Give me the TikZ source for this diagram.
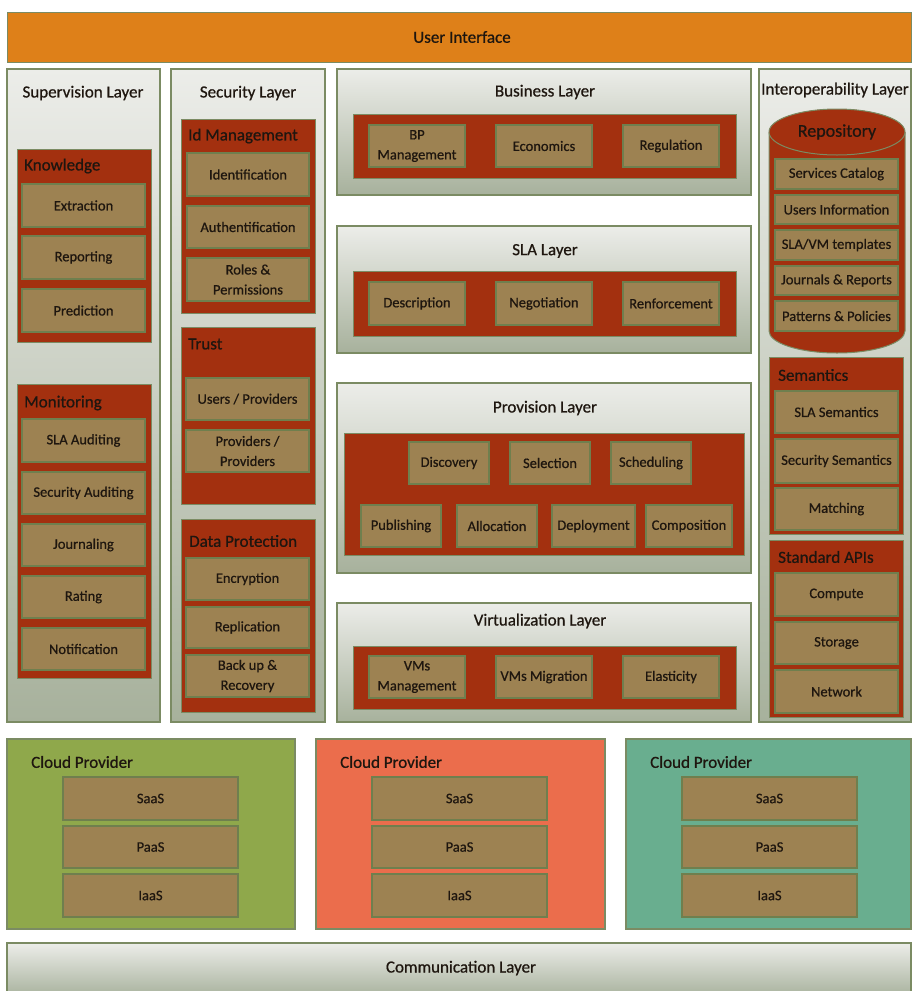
\documentclass[tikz,border=0pt]{standalone}
\usepackage{fontspec}
\setmainfont{Carlito}[FakeBold=0.7]
\usetikzlibrary{calc}

\definecolor{uiorange}{HTML}{DE8019}
\definecolor{paneltop}{HTML}{ECEDE9}
\definecolor{panelbot}{HTML}{A7B19C}
\definecolor{edgegreen}{HTML}{7B8B63}
\definecolor{groupred}{HTML}{A3300F}
\definecolor{itemtan}{HTML}{9D8252}
\definecolor{itemedge}{HTML}{6F7F4E}
\definecolor{cloudgreen}{HTML}{8FA84B}
\definecolor{cloudred}{HTML}{EB6D4C}
\definecolor{cloudteal}{HTML}{69AE8F}
\definecolor{ink}{HTML}{1E160F}

\tikzset{
  layerpanel/.style={draw=edgegreen, line width=1.2pt, top color=paneltop, bottom color=panelbot,
    inner sep=0pt, outer sep=0pt},
  groupbox/.style={draw=edgegreen, line width=1pt, fill=groupred, inner sep=0pt, outer sep=0pt},
  itembox/.style={draw=itemedge, line width=1.2pt, fill=itemtan, inner sep=0pt, outer sep=0pt,
    align=center, text=ink, font=\fontsize{14.5}{20}\selectfont},
  cloudbox/.style={draw=edgegreen, line width=1.2pt, inner sep=0pt, outer sep=0pt},
  layertitle/.style={text=ink, font=\fontsize{17}{19}\selectfont, inner sep=0pt},
  grouptitle/.style={text=ink, font=\fontsize{17}{19}\selectfont, inner sep=0pt, anchor=west},
}

% box from corner (x1,y1) to (x2,y2): name, x1, y1, x2, y2, style, text
\newcommand\cornerbox[7]{%
  \node[#6, minimum width={#4-#2}, minimum height={#5-#3}] (#1)
    at ({(#2+#4)/2},{(#3+#5)/2}) {#7};}

\begin{document}
\begin{tikzpicture}[x=1pt,y=-1pt]
\useasboundingbox (0,0) rectangle (911,991);

% ---------- top bar ----------
\cornerbox{ui}{7}{12}{911}{62}{draw=edgegreen, line width=1pt, fill=uiorange, inner sep=0pt}{}
\node[layertitle] (uit) at (462,37) {User Interface};

% ---------- supervision layer ----------
\cornerbox{sup}{7}{69}{160}{722}{layerpanel}{}
\node[layertitle] (supt) at (83,93) {Supervision Layer};
\cornerbox{know}{17}{149}{151}{342}{groupbox}{}
\node[grouptitle] (knowt) at (24,166) {Knowledge};
\cornerbox{ext}{22}{184}{145}{227}{itembox}{Extraction}
\cornerbox{rep}{22}{236}{145}{279}{itembox}{Reporting}
\cornerbox{pred}{22}{289}{145}{332}{itembox}{Prediction}
\cornerbox{mon}{17}{384}{151}{678}{groupbox}{}
\node[grouptitle] (mont) at (24,403) {Monitoring};
\cornerbox{slaa}{22}{419}{145}{462}{itembox}{SLA Auditing}
\cornerbox{seca}{22}{472}{145}{514}{itembox}{Security Auditing}
\cornerbox{jour}{22}{524}{145}{566}{itembox}{Journaling}
\cornerbox{rat}{22}{576}{145}{618}{itembox}{Rating}
\cornerbox{noti}{22}{628}{145}{670}{itembox}{Notification}

% ---------- security layer ----------
\cornerbox{sec}{171}{69}{325}{722}{layerpanel}{}
\node[layertitle] (sect) at (248,93) {Security Layer};
\cornerbox{idm}{181}{119}{315}{313}{groupbox}{}
\node[grouptitle] (idmt) at (188,136) {Id Management};
\cornerbox{ident}{187}{153}{309}{196}{itembox}{Identification}
\cornerbox{auth}{187}{206}{309}{248}{itembox}{Authentification}
\cornerbox{roles}{187}{258}{309}{301}{itembox}{Roles \&\\Permissions}
\cornerbox{trust}{181}{327}{315}{504}{groupbox}{}
\node[grouptitle] (trustt) at (188,344) {Trust};
\cornerbox{usp}{186}{378}{309}{420}{itembox}{Users / Providers}
\cornerbox{pp}{186}{430}{309}{472}{itembox}{Providers /\\Providers}
\cornerbox{dp}{181}{519}{315}{712}{groupbox}{}
\node[grouptitle] (dpt) at (189,541) {Data Protection};
\cornerbox{enc}{186}{558}{309}{600}{itembox}{Encryption}
\cornerbox{repl}{186}{607}{309}{648}{itembox}{Replication}
\cornerbox{back}{186}{655}{309}{697}{itembox}{Back up \&\\Recovery}

% ---------- business layer ----------
\cornerbox{bus}{337}{69}{751}{195}{layerpanel}{}
\node[layertitle] (bust) at (545,92) {Business Layer};
\cornerbox{busg}{353}{114}{736}{178}{groupbox}{}
\cornerbox{bpm}{369}{125}{465}{167}{itembox}{BP\\Management}
\cornerbox{eco}{496}{125}{592}{167}{itembox}{Economics}
\cornerbox{reg}{623}{125}{719}{167}{itembox}{Regulation}

% ---------- SLA layer ----------
\cornerbox{sla}{337}{226}{751}{353}{layerpanel}{}
\node[layertitle] (slat) at (545,251) {SLA Layer};
\cornerbox{slag}{353}{271}{736}{336}{groupbox}{}
\cornerbox{desc}{369}{282}{465}{325}{itembox}{Description}
\cornerbox{nego}{496}{282}{592}{325}{itembox}{Negotiation}
\cornerbox{renf}{623}{282}{719}{325}{itembox}{Renforcement}

% ---------- provision layer ----------
\cornerbox{prov}{337}{383}{751}{573}{layerpanel}{}
\node[layertitle] (provt) at (545,408) {Provision Layer};
\cornerbox{provg}{344}{433}{744}{555}{groupbox}{}
\cornerbox{disc}{409}{442}{489}{484}{itembox}{Discovery}
\cornerbox{sel}{510}{442}{590}{484}{itembox}{Selection}
\cornerbox{sched}{611}{442}{691}{484}{itembox}{Scheduling}
\cornerbox{pub}{361}{505}{441}{547}{itembox}{Publishing}
\cornerbox{alloc}{457}{505}{537}{547}{itembox}{Allocation}
\cornerbox{depl}{552}{505}{635}{547}{itembox}{Deployment}
\cornerbox{comp}{646}{505}{732}{547}{itembox}{Composition}

% ---------- virtualization layer ----------
\cornerbox{virt}{337}{603}{751}{722}{layerpanel}{}
\node[layertitle] (virtt) at (540,621) {Virtualization Layer};
\cornerbox{virtg}{353}{646}{736}{709}{groupbox}{}
\cornerbox{vmm}{369}{656}{465}{698}{itembox}{VMs\\Management}
\cornerbox{vmmig}{496}{656}{592}{698}{itembox}{VMs Migration}
\cornerbox{elas}{623}{656}{719}{698}{itembox}{Elasticity}

% ---------- interoperability layer ----------
\cornerbox{inter}{759}{69}{911}{722}{layerpanel}{}
\node[layertitle] (intert) at (835,90) {Interoperability Layer};
% repository drum
\fill[groupred] (769,132) -- (769,331)
  arc[start angle=180, end angle=360, x radius=68pt, y radius=22pt]
  -- (905,132)
  arc[start angle=0, end angle=180, x radius=68pt, y radius=23pt] -- cycle;
\draw[edgegreen, line width=1pt] (769,132) -- (769,331)
  arc[start angle=180, end angle=360, x radius=68pt, y radius=22pt]
  -- (905,132);
\draw[edgegreen, line width=1pt, fill=groupred] (837,132) ellipse[x radius=68pt, y radius=23pt];
\node[layertitle, font=\fontsize{18}{20}\selectfont] (repot) at (837,132) {Repository};
\cornerbox{scat}{775}{159}{898}{189}{itembox}{Services Catalog}
\cornerbox{uinf}{775}{195}{898}{224}{itembox}{Users Information}
\cornerbox{tmpl}{775}{230}{898}{260}{itembox}{SLA/VM templates}
\cornerbox{jrep}{775}{266}{898}{295}{itembox}{Journals \& Reports}
\cornerbox{patp}{775}{301}{898}{331}{itembox}{Patterns \& Policies}
\cornerbox{sem}{769}{357}{903}{534}{groupbox}{}
\node[grouptitle] (semt) at (778,375) {Semantics};
\cornerbox{slas}{775}{391}{898}{433}{itembox}{SLA Semantics}
\cornerbox{secs}{775}{439}{898}{483}{itembox}{Security Semantics}
\cornerbox{match}{775}{488}{898}{530}{itembox}{Matching}
\cornerbox{api}{769}{540}{903}{717}{groupbox}{}
\node[grouptitle] (apit) at (778,557) {Standard APIs};
\cornerbox{compute}{775}{573}{898}{616}{itembox}{Compute}
\cornerbox{stor}{775}{622}{898}{664}{itembox}{Storage}
\cornerbox{netw}{775}{670}{898}{713}{itembox}{Network}

% ---------- cloud providers ----------
\cornerbox{cpa}{7}{739}{295}{929}{cloudbox, fill=cloudgreen}{}
\node[grouptitle] (cpat) at (31,762) {Cloud Provider};
\cornerbox{saasa}{63}{777}{238}{820}{itembox}{SaaS}
\cornerbox{paasa}{63}{826}{238}{868}{itembox}{PaaS}
\cornerbox{iaasa}{63}{874}{238}{917}{itembox}{IaaS}

\cornerbox{cpb}{316}{739}{605}{929}{cloudbox, fill=cloudred}{}
\node[grouptitle] (cpbt) at (340,762) {Cloud Provider};
\cornerbox{saasb}{372}{777}{547}{820}{itembox}{SaaS}
\cornerbox{paasb}{372}{826}{547}{868}{itembox}{PaaS}
\cornerbox{iaasb}{372}{874}{547}{917}{itembox}{IaaS}

\cornerbox{cpc}{626}{739}{911}{929}{cloudbox, fill=cloudteal}{}
\node[grouptitle] (cpct) at (650,762) {Cloud Provider};
\cornerbox{saasc}{682}{777}{857}{820}{itembox}{SaaS}
\cornerbox{paasc}{682}{826}{857}{868}{itembox}{PaaS}
\cornerbox{iaasc}{682}{874}{857}{917}{itembox}{IaaS}

% ---------- communication layer ----------
\cornerbox{comm}{7}{943}{911}{997}{layerpanel}{}
\node[layertitle] (commt) at (461,968) {Communication Layer};
\end{tikzpicture}
\end{document}
